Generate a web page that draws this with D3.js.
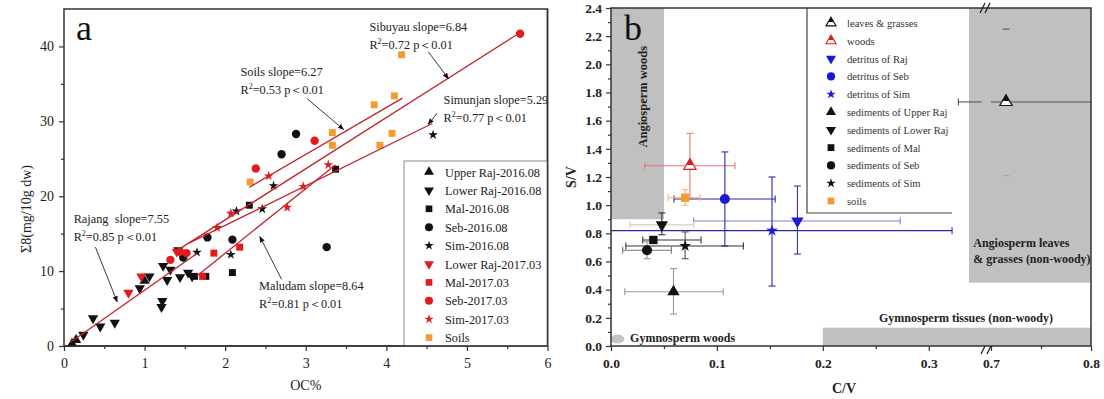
<!DOCTYPE html>
<html>
<head>
<meta charset="utf-8">
<script src="https://cdn.jsdelivr.net/npm/d3@7"></script>
<style>
  body { margin: 0; background: #fff; }
  svg { display: block; }
  text { font-family: "Liberation Serif", "Times New Roman", serif; }
</style>
</head>
<body>
<svg id="chart" width="1104" height="399"></svg>
<script>
// ---------------- Panel a: OC% vs Σ8 ----------------
const ocTicks = [0, 1, 2, 3, 4, 5, 6];
const sigmaTicks = [0, 10, 20, 30, 40];

// [OC%, Σ8]
const upperRaj2016 = [[0.10, 0.3], [0.15, 0.8], [1.00, 8.7]];
const lowerRaj2016 = [[0.24, 1.5], [0.36, 3.7], [0.45, 2.6], [0.63, 3.1], [0.94, 7.7], [1.06, 9.3],
  [1.21, 5.2], [1.22, 6.0], [1.23, 10.7], [1.28, 8.8], [1.32, 10.2], [1.42, 12.8], [1.44, 9.2],
  [1.54, 9.8], [1.59, 9.3]];
const mal2016 = [[1.62, 9.3], [1.76, 9.3], [2.09, 9.8], [2.30, 18.8], [3.37, 23.6]];
const seb2016 = [[1.48, 11.8], [1.78, 14.5], [2.09, 14.2], [2.70, 25.6], [2.88, 28.3], [3.26, 13.2]];
const sim2016 = [[1.65, 12.5], [2.07, 12.2], [2.14, 18.0], [2.46, 18.3], [2.60, 21.4], [4.58, 28.2]];
const lowerRaj2017 = [[0.80, 7.1], [0.96, 9.3], [1.40, 12.6]];
const mal2017 = [[1.72, 9.3], [1.86, 12.4], [2.18, 13.2]];
const seb2017 = [[1.32, 11.5], [1.44, 12.6], [1.52, 12.4], [2.38, 23.7], [3.11, 27.4], [5.66, 41.7]];
const sim2017 = [[1.90, 15.8], [2.07, 17.7], [2.54, 22.7], [2.77, 18.5], [2.97, 21.3], [3.28, 24.2]];
const soilsA = [[2.31, 21.9], [3.33, 26.8], [3.33, 28.5], [3.85, 32.2], [3.92, 26.8], [4.07, 28.4],
  [4.10, 33.4], [4.19, 38.9]];

const seriesNamesA = ['Upper Raj-2016.08', 'Lower Raj-2016.08', 'Mal-2016.08', 'Seb-2016.08', 'Sim-2016.08',
  'Lower Raj-2017.03', 'Mal-2017.03', 'Seb-2017.03', 'Sim-2017.03', 'Soils'];
const seriesDataA = [upperRaj2016, lowerRaj2016, mal2016, seb2016, sim2016,
  lowerRaj2017, mal2017, seb2017, sim2017, soilsA];

// linear fits: slope from the labels, intercept and OC range of each fitted segment
const fitNames = ['Rajang', 'Sibuyau', 'Soils', 'Simunjan', 'Maludam'];
const fitSlopes = [7.55, 6.84, 6.27, 5.29, 8.64];
const fitIntercepts = [-0.1, 3.15, 6.77, 5.53, -4.9];
const fitFrom = [0.08, 1.42, 2.30, 1.55, 1.65];
const fitTo = [1.65, 5.66, 4.20, 4.57, 3.37];
const fitR2 = ['0.85', '0.72', '0.53', '0.77', '0.81'];

// ---------------- Panel b: C/V vs S/V ----------------
const cvTicks = [0, 0.1, 0.2, 0.3, 0.7, 0.8];
const svTicks = [0, 0.2, 0.4, 0.6, 0.8, 1.0, 1.2, 1.4, 1.6, 1.8, 2.0, 2.2, 2.4];

const groupNames = ['leaves & grasses', 'woods', 'detritus of Raj', 'detritus of Seb', 'detritus of Sim',
  'sediments of Upper Raj', 'sediments of Lower Raj', 'sediments of Mal', 'sediments of Seb',
  'sediments of Sim', 'soils'];
const groupCV   = [0.715, 0.0745, 0.176, 0.1075, 0.152, 0.059, 0.048, 0.040, 0.034, 0.070, 0.070];
const groupCVlo = [0.328, 0.032, 0.078, 0.0595, -0.02, 0.013, 0.018, 0.030, 0.011, 0.014, 0.054];
const groupCVhi = [1.100, 0.117, 0.273, 0.155, 0.322, 0.106, 0.078, 0.085, 0.057, 0.125, 0.084];
const groupSV   = [1.733, 1.28, 0.888, 1.044, 0.819, 0.385, 0.86, 0.753, 0.68, 0.71, 1.053];
const groupSVlo = [1.21, 1.05, 0.653, 0.71, 0.426, 0.227, 0.79, 0.753, 0.62, 0.62, 1.00];
const groupSVhi = [2.25, 1.51, 1.136, 1.378, 1.20, 0.55, 0.945, 0.753, 0.74, 0.81, 1.11];

// source fields
const regionNames = ['Angiosperm woods', 'Angiosperm leaves & grasses (non-woody)', 'Gymnosperm tissues (non-woody)'];
const regionCV = [[0, 0.05], [0.338, 0.8], [0.2, 0.8]];
const regionSV = [[0.9, 2.4], [0.45, 2.4], [0, 0.13]];

// ---------------- styles ----------------
const RED = '#e41b1b', BLUE = '#1a1ad6', ORANGE = '#f39a35', BLACK = '#111';
const FIT = '#c4232b';
const shapesA = ['triUp', 'triDown', 'square', 'circle', 'star', 'triDown', 'square', 'circle', 'star', 'square'];
const colorsA = [BLACK, BLACK, BLACK, BLACK, BLACK, RED, RED, RED, RED, ORANGE];
const shapesB = ['triUp', 'triUp', 'triDown', 'circle', 'star', 'triUp', 'triDown', 'square', 'circle', 'star', 'square'];
const colorsB = ['url(#halfBlack)', 'url(#halfRed)', BLUE, BLUE, BLUE, BLACK, BLACK, BLACK, BLACK, BLACK, ORANGE];
const strokeB = [BLACK, RED, null, null, null, null, null, null, null, null, null];
const errX = ['#555', '#e07a7a', '#8080e0', '#2a2aa8', '#2a2aa8', '#9a9a9a', '#cfcfcf', '#333', '#777', '#333', '#f5b77a'];
const errY = ['#555', '#e07a7a', '#3535b5', '#2a2aa8', '#2a2aa8', '#9a9a9a', '#333', '#333', '#999', '#555', '#f5b77a'];
const errYLowCap = ['#a8a8a8', null, null, null, null, null, null, null, null, null, null];

const symbolTypes = { triUp: d3.symbolTriangle, triDown: d3.symbolTriangle, square: d3.symbolSquare,
  circle: d3.symbolCircle, star: d3.symbolStar };
const sizeScale = { triUp: 1, triDown: 1, square: 1.05, circle: 1.2, star: 0.65 };
function symbolPath(shape, size) {
  return d3.symbol(symbolTypes[shape], size * sizeScale[shape])();
}
function symbolTransform(shape, x, y) {
  return `translate(${x},${y})` + (shape === 'triDown' ? ' rotate(180)' : '');
}

const svg = d3.select('#chart');
const defs = svg.append('defs');
[['halfBlack', BLACK], ['halfRed', RED]].forEach(([id, c]) => {
  const g = defs.append('linearGradient').attr('id', id).attr('x1', 0).attr('y1', 0).attr('x2', 0).attr('y2', 1);
  g.append('stop').attr('offset', '0.6').attr('stop-color', c);
  g.append('stop').attr('offset', '0.6').attr('stop-color', '#fff');
});
defs.append('marker').attr('id', 'arrow').attr('viewBox', '0 0 10 10').attr('refX', 9).attr('refY', 5)
  .attr('markerWidth', 7).attr('markerHeight', 7).attr('orient', 'auto-start-reverse')
  .append('path').attr('d', 'M0,1 L10,5 L0,9 Z').attr('fill', '#111');

function styleAxis(g, size, bold) {
  g.attr('font-family', null).attr('font-size', size).attr('font-weight', bold ? 'bold' : null);
  g.selectAll('text').attr('fill', '#222');
  g.selectAll('line').attr('stroke', '#333').attr('stroke-width', 1.2);
  g.select('.domain').remove();
}

// ================= Panel a =================
const xA = d3.scaleLinear([0, 6], [64, 547.5]);
const yA = d3.scaleLinear([0, 45], [346, 9]);
const pa = svg.append('g');

pa.append('g').attr('transform', `translate(0,${yA(0)})`)
  .call(d3.axisBottom(xA).tickValues(ocTicks).tickSize(5).tickPadding(7).tickFormat(d3.format('d')))
  .call(g => styleAxis(g, 14));
pa.append('g').attr('transform', `translate(0,${yA(0)})`)
  .call(d3.axisBottom(xA).tickValues(d3.range(0.5, 6, 1)).tickSize(3).tickFormat(''))
  .call(g => styleAxis(g, 14));
pa.append('g').attr('transform', `translate(${xA(0)},0)`)
  .call(d3.axisLeft(yA).tickValues(sigmaTicks).tickSize(5).tickPadding(5))
  .call(g => styleAxis(g, 14));
pa.append('g').attr('transform', `translate(${xA(0)},0)`)
  .call(d3.axisLeft(yA).tickValues([5, 15, 25, 35]).tickSize(3).tickFormat(''))
  .call(g => styleAxis(g, 14));
pa.append('rect').attr('x', xA(0)).attr('y', yA(45)).attr('width', xA(6) - xA(0)).attr('height', yA(0) - yA(45))
  .attr('fill', 'none').attr('stroke', '#333').attr('stroke-width', 1.5);

pa.append('text').attr('x', xA(3)).attr('y', 390).attr('text-anchor', 'middle').attr('font-size', 14).attr('fill', '#222').text('OC%');
pa.append('text').attr('transform', `translate(31,${yA(18.3)}) rotate(-90)`).attr('text-anchor', 'middle')
  .attr('font-size', 14).attr('fill', '#222').text('Σ8(mg/10g dw)');
pa.append('text').attr('x', 76).attr('y', 40).attr('font-size', 36).attr('fill', '#111').text('a');

// points
seriesDataA.forEach((pts, i) => {
  pa.append('g').selectAll('path').data(pts).join('path')
    .attr('d', symbolPath(shapesA[i], 46))
    .attr('transform', d => symbolTransform(shapesA[i], xA(d[0]), yA(d[1])))
    .attr('fill', colorsA[i]);
});

// fit lines
fitNames.forEach((n, i) => {
  pa.append('line')
    .attr('x1', xA(fitFrom[i])).attr('y1', yA(fitSlopes[i] * fitFrom[i] + fitIntercepts[i]))
    .attr('x2', xA(fitTo[i])).attr('y2', yA(fitSlopes[i] * fitTo[i] + fitIntercepts[i]))
    .attr('stroke', FIT).attr('stroke-width', 1.3);
});

// fit annotations [OC, Σ8] for text and arrow
const annText = { Rajang: [0.12, 16.4], Sibuyau: [3.79, 42.0], Soils: [2.19, 36.0], Simunjan: [4.71, 32.3], Maludam: [2.42, 7.5] };
const annArrow = {
  Rajang: [[0.39, 13.2], [0.66, 5.9]], Sibuyau: [[4.52, 39.3], [4.77, 35.7]], Soils: [[3.02, 33.0], [3.47, 28.9]],
  Simunjan: [[4.63, 31.1], [4.52, 29.6]], Maludam: [[2.70, 8.9], [2.43, 14.6]]
};
fitNames.forEach((n, i) => {
  const [tx, ty] = annText[n];
  const sep = n === 'Rajang' ? '  slope=' : ' slope=';
  pa.append('text').attr('x', xA(tx)).attr('y', yA(ty)).attr('font-size', 12.3).attr('fill', '#222')
    .style('white-space', 'pre').text(n + sep + fitSlopes[i]);
  const t2 = pa.append('text').attr('x', xA(tx)).attr('y', yA(ty) + 18).attr('font-size', 12.3).attr('fill', '#222')
    .style('white-space', 'pre');
  t2.append('tspan').text('R');
  t2.append('tspan').attr('font-size', 8).attr('dy', -5).text('2');
  t2.append('tspan').attr('dy', 5).text(`=${fitR2[i]} p＜0.01`);
  const [[ax0, ay0], [ax1, ay1]] = annArrow[n];
  pa.append('line').attr('x1', xA(ax0)).attr('y1', yA(ay0)).attr('x2', xA(ax1)).attr('y2', yA(ay1))
    .attr('stroke', '#222').attr('stroke-width', 0.9).attr('marker-end', 'url(#arrow)');
});

// legend a
const legA = pa.append('g');
legA.append('rect').attr('x', 404).attr('y', 161).attr('width', xA(6) - 404).attr('height', yA(0) - 161)
  .attr('fill', '#fff').attr('stroke', '#888').attr('stroke-width', 1);
seriesNamesA.forEach((n, i) => {
  const y = 172 + i * 18.4;
  legA.append('path').attr('d', symbolPath(shapesA[i], 42)).attr('transform', symbolTransform(shapesA[i], 429, y))
    .attr('fill', colorsA[i]);
  legA.append('text').attr('x', 445).attr('y', y + 4.5).attr('font-size', 12.3).attr('fill', '#222').text(n);
});
// re-draw the right/bottom frame edges over the legend box
pa.append('line').attr('x1', xA(6)).attr('x2', xA(6)).attr('y1', yA(45)).attr('y2', yA(0)).attr('stroke', '#333').attr('stroke-width', 1.5);
pa.append('line').attr('x1', xA(0)).attr('x2', xA(6)).attr('y1', yA(0)).attr('y2', yA(0)).attr('stroke', '#333').attr('stroke-width', 1.5);

// ================= Panel b =================
const BREAK_LO = 0.355, BREAK_HI = 0.7;
const xB = d3.scaleLinear().domain([0, BREAK_LO, BREAK_HI, 0.8]).range([611, 987, 991, 1091]);
const yB = d3.scaleLinear([0, 2.4], [346, 8]);
const pb = svg.append('g');

defs.append('clipPath').attr('id', 'clipB').append('rect')
  .attr('x', xB(0)).attr('y', yB(2.4)).attr('width', xB(0.8) - xB(0)).attr('height', yB(0) - yB(2.4));

// source fields
regionNames.forEach((n, i) => {
  pb.append('rect').attr('x', xB(regionCV[i][0])).attr('y', yB(regionSV[i][1]))
    .attr('width', xB(regionCV[i][1]) - xB(regionCV[i][0])).attr('height', yB(regionSV[i][0]) - yB(regionSV[i][1]))
    .attr('fill', '#c0c0c0');
});
pb.append('ellipse').attr('cx', xB(0.006)).attr('cy', yB(0.05)).attr('rx', 7).attr('ry', 4.5).attr('fill', '#c4c4c4');

// region labels
pb.append('text').attr('transform', `translate(${xB(0.0305) + 4},${yB(1.77)}) rotate(-90)`).attr('text-anchor', 'middle')
  .attr('font-size', 12.5).attr('font-weight', 'bold').attr('fill', '#222').text('Angiosperm woods');
pb.append('text').attr('x', xB(0.342)).attr('y', yB(0.7)).attr('font-size', 12).attr('font-weight', 'bold').attr('fill', '#222')
  .text('Angiosperm leaves');
pb.append('text').attr('x', xB(0.342)).attr('y', yB(0.7) + 16).attr('font-size', 12).attr('font-weight', 'bold').attr('fill', '#222')
  .text('& grasses (non-woody)');
pb.append('text').attr('x', xB(0.253)).attr('y', yB(0.17)).attr('font-size', 12).attr('font-weight', 'bold').attr('fill', '#222')
  .text('Gymnosperm tissues (non-woody)');
pb.append('text').attr('x', xB(0.018)).attr('y', yB(0.0) - 4).attr('font-size', 12).attr('font-weight', 'bold').attr('fill', '#222')
  .text('Gymnosperm woods');

// axes
pb.append('g').attr('transform', `translate(0,${yB(0)})`)
  .call(d3.axisBottom(xB).tickValues(cvTicks).tickSize(5).tickPadding(7).tickFormat(d3.format('.1f')))
  .call(g => styleAxis(g, 13.5, true));
pb.append('g').attr('transform', `translate(0,${yB(0)})`)
  .call(d3.axisBottom(xB).tickValues([0.05, 0.15, 0.25, 0.75]).tickSize(3).tickFormat(''))
  .call(g => styleAxis(g, 13, true));
pb.append('g').attr('transform', `translate(${xB(0)},0)`)
  .call(d3.axisLeft(yB).tickValues(svTicks).tickSize(5).tickPadding(4).tickFormat(d3.format('.1f')))
  .call(g => styleAxis(g, 13.5, true));
pb.append('g').attr('transform', `translate(${xB(0)},0)`)
  .call(d3.axisLeft(yB).tickValues(d3.range(0.1, 2.4, 0.2)).tickSize(3).tickFormat(''))
  .call(g => styleAxis(g, 13, true));
pb.append('text').attr('x', xB(0.22)).attr('y', 393).attr('text-anchor', 'middle').attr('font-size', 14)
  .attr('font-weight', 'bold').attr('fill', '#222').text('C/V');
pb.append('text').attr('transform', `translate(576,${yB(1.2)}) rotate(-90)`).attr('text-anchor', 'middle')
  .attr('font-size', 14).attr('font-weight', 'bold').attr('fill', '#222').text('S/V');
pb.append('text').attr('x', 624).attr('y', 40).attr('font-size', 36).attr('fill', '#111').text('b');

// error bars
const eb = pb.append('g').attr('clip-path', 'url(#clipB)');
function hSegments(lo, hi) {
  if (lo < BREAK_LO && hi > BREAK_HI) return [[lo, BREAK_LO - 0.005], [BREAK_HI, hi]];
  return [[lo, hi]];
}
groupNames.forEach((n, i) => {
  const y = yB(groupSV[i]), x = xB(groupCV[i]);
  hSegments(groupCVlo[i], groupCVhi[i]).forEach(([a, b]) => {
    eb.append('line').attr('x1', xB(a)).attr('x2', xB(b)).attr('y1', y).attr('y2', y)
      .attr('stroke', errX[i]).attr('stroke-width', 1.1);
  });
  [groupCVlo[i], groupCVhi[i]].forEach(v => {
    if (v >= 0 && v <= 0.8) eb.append('line').attr('x1', xB(v)).attr('x2', xB(v)).attr('y1', y - 3.5).attr('y2', y + 3.5)
      .attr('stroke', errX[i]).attr('stroke-width', 1.1);
  });
  if (groupSVhi[i] > groupSVlo[i]) {
    eb.append('line').attr('x1', x).attr('x2', x).attr('y1', yB(groupSVlo[i])).attr('y2', yB(groupSVhi[i]))
      .attr('stroke', i === 0 ? 'none' : errY[i]).attr('stroke-width', 1.1);
    [groupSVlo[i], groupSVhi[i]].forEach((v, k) => {
      eb.append('line').attr('x1', x - 3.5).attr('x2', x + 3.5).attr('y1', yB(v)).attr('y2', yB(v))
        .attr('stroke', k === 0 && errYLowCap[i] ? errYLowCap[i] : errY[i]).attr('stroke-width', 1.1);
    });
  }
});

// group markers
groupNames.forEach((n, i) => {
  pb.append('path').attr('d', symbolPath(shapesB[i], 66))
    .attr('transform', symbolTransform(shapesB[i], xB(groupCV[i]), yB(groupSV[i])))
    .attr('fill', colorsB[i]).attr('stroke', strokeB[i] || 'none').attr('stroke-width', 1.2);
});

// legend b
const legB = pb.append('g');
legB.append('rect').attr('x', 807).attr('y', 8).attr('width', 145).attr('height', 205).attr('fill', '#fff');
legB.append('path').attr('d', 'M807,8 V213 H952').attr('fill', 'none').attr('stroke', '#444').attr('stroke-width', 1.2);
groupNames.forEach((n, i) => {
  const y = 23 + i * 17.8;
  legB.append('path').attr('d', symbolPath(shapesB[i], 44)).attr('transform', symbolTransform(shapesB[i], 831, y))
    .attr('fill', colorsB[i]).attr('stroke', strokeB[i] || 'none').attr('stroke-width', 1.1);
  legB.append('text').attr('x', 847).attr('y', y + 4).attr('font-size', 10.6).attr('fill', '#333').text(n);
});

// frame with axis break marks
pb.append('path').attr('d', `M${xB(0)},${yB(2.4)} H${xB(0.8)} V${yB(0)} H${xB(0)} Z`)
  .attr('fill', 'none').attr('stroke', '#333').attr('stroke-width', 1.5);
const bx = xB(BREAK_LO);
pb.append('path').attr('d', `M${bx - 7},${yB(2.4) + 5} L${bx - 2},${yB(2.4) - 5} M${bx - 2},${yB(2.4) + 5} L${bx + 3},${yB(2.4) - 5}`)
  .attr('stroke', '#222').attr('stroke-width', 1.3);
pb.append('path').attr('d', `M${bx - 6},${yB(0) + 8} L${bx - 2},${yB(0)} M${bx},${yB(0) + 8} L${bx + 4},${yB(0)}`)
  .attr('stroke', '#222').attr('stroke-width', 1.3);
</script>
</body>
</html>
